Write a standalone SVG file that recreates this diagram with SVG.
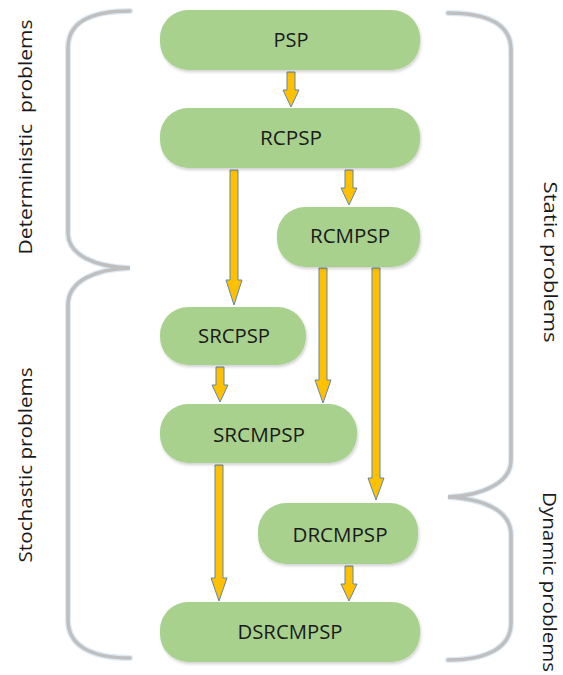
<svg xmlns="http://www.w3.org/2000/svg" width="563" height="675" viewBox="0 0 563 675">
  <defs>
    <filter id="soft" x="-10%" y="-10%" width="120%" height="130%">
      <feDropShadow dx="1" dy="2" stdDeviation="1.5" flood-color="#000000" flood-opacity="0.18"/>
    </filter>
    <style>
      .node { fill: #A9D18E; filter: url(#soft); }
      .lbl { font-family: "Open Sans", "Liberation Sans", sans-serif; font-size: 19.5px; fill: #1A1A1A; text-anchor: middle; }
      .side { font-family: "Open Sans", "Liberation Sans", sans-serif; font-size: 18.5px; fill: #1A1A1A; text-anchor: middle; white-space: pre; }
      .arrow { fill: #FFC000; stroke: #5E87AE; stroke-width: 1; stroke-linejoin: miter; }
      .brace-glow { fill: none; stroke: #DDEAF6; stroke-width: 6; stroke-linecap: round; }
      .brace { fill: none; stroke: #BFBFBF; stroke-width: 3.5; stroke-linecap: round; }
    </style>
  </defs>

  <rect width="563" height="675" fill="#FFFFFF"/>

  <!-- grouping braces -->
  <g id="braces">
    <path class="brace-glow" d="M130 11 C90 11 68 22 68 48 L68 233 C68 255 95 267 130 268 C95 269 68 281 68 305 L68 620 C68 645 90 658 130 658"/>
    <path class="brace" d="M130 11 C90 11 68 22 68 48 L68 233 C68 255 95 267 130 268 C95 269 68 281 68 305 L68 620 C68 645 90 658 130 658"/>
    <path class="brace-glow" d="M448 13 C488 13 511 24 511 50 L511 460 C511 482 485 495 448 497 C485 499 511 511 511 535 L511 623 C511 647 488 660 448 660"/>
    <path class="brace" d="M448 13 C488 13 511 24 511 50 L511 460 C511 482 485 495 448 497 C485 499 511 511 511 535 L511 623 C511 647 488 660 448 660"/>
  </g>

  <!-- group labels -->
  <g id="group-labels">
    <text class="side" transform="translate(32 137) rotate(-90)" textLength="235" lengthAdjust="spacingAndGlyphs">Deterministic  problems</text>
    <text class="side" transform="translate(32 465) rotate(-90)" textLength="195" lengthAdjust="spacingAndGlyphs">Stochastic problems</text>
    <text class="side" transform="translate(544 262) rotate(90)" textLength="161" lengthAdjust="spacingAndGlyphs">Static problems</text>
    <text class="side" transform="translate(543 582) rotate(90)" textLength="180" lengthAdjust="spacingAndGlyphs">Dynamic problems</text>
  </g>

  <!-- connectors: block arrows -->
  <g id="connectors">
    <polygon class="arrow" points="287,72 295,72 295,90 299,90 291,107 283,90 287,90"/>
    <polygon class="arrow" points="230,170 238,170 238,280 242,280 234,305 226,280 230,280"/>
    <polygon class="arrow" points="345,170 353,170 353,188 357,188 349,205 341,188 345,188"/>
    <polygon class="arrow" points="319,268 327,268 327,380 331,380 323,403 315,380 319,380"/>
    <polygon class="arrow" points="372,268 380,268 380,478 384,478 376,500 368,478 372,478"/>
    <polygon class="arrow" points="216,367 224,367 224,385 228,385 220,402 212,385 216,385"/>
    <polygon class="arrow" points="215,465 223,465 223,578 227,578 219,601 211,578 215,578"/>
    <polygon class="arrow" points="345,566 353,566 353,584 357,584 349,601 341,584 345,584"/>
  </g>

  <!-- nodes -->
  <g id="PSP">
    <rect class="node" x="160" y="10" width="260" height="60" rx="28"/>
    <text class="lbl" x="291" y="47" textLength="35" lengthAdjust="spacingAndGlyphs">PSP</text>
  </g>
  <g id="RCPSP">
    <rect class="node" x="160" y="108" width="260" height="60" rx="28"/>
    <text class="lbl" x="291" y="145" textLength="62" lengthAdjust="spacingAndGlyphs">RCPSP</text>
  </g>
  <g id="RCMPSP">
    <rect class="node" x="277" y="207" width="143" height="60" rx="28"/>
    <text class="lbl" x="350" y="243" textLength="80" lengthAdjust="spacingAndGlyphs">RCMPSP</text>
  </g>
  <g id="SRCPSP">
    <rect class="node" x="160" y="307" width="146" height="58" rx="28"/>
    <text class="lbl" x="234" y="343" textLength="72" lengthAdjust="spacingAndGlyphs">SRCPSP</text>
  </g>
  <g id="SRCMPSP">
    <rect class="node" x="160" y="404" width="197" height="59" rx="28"/>
    <text class="lbl" x="259" y="442" textLength="92" lengthAdjust="spacingAndGlyphs">SRCMPSP</text>
  </g>
  <g id="DRCMPSP">
    <rect class="node" x="258" y="503" width="160" height="61" rx="28"/>
    <text class="lbl" x="340" y="542" textLength="95" lengthAdjust="spacingAndGlyphs">DRCMPSP</text>
  </g>
  <g id="DSRCMPSP">
    <rect class="node" x="160" y="602" width="260" height="60" rx="28"/>
    <text class="lbl" x="290" y="639" textLength="105" lengthAdjust="spacingAndGlyphs">DSRCMPSP</text>
  </g>
</svg>
